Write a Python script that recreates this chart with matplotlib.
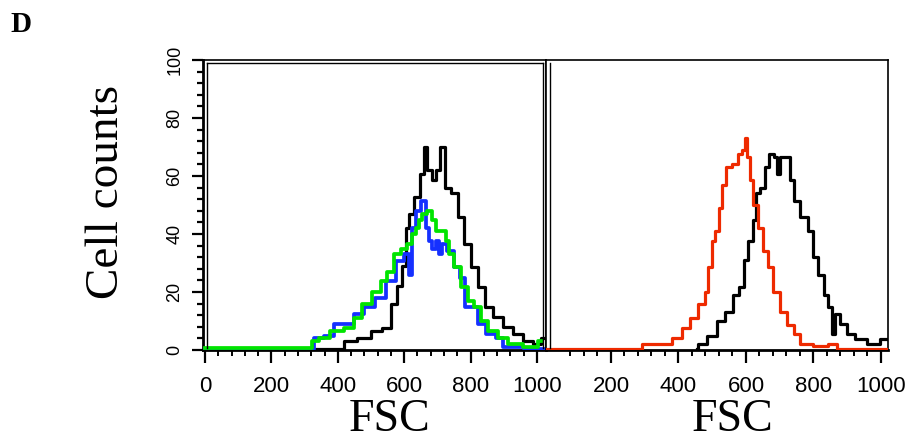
import matplotlib
matplotlib.use("Agg")
import matplotlib.pyplot as plt
from matplotlib.lines import Line2D
from matplotlib.ticker import MultipleLocator, FixedLocator

W, H = 912, 442

# ---------------- data ----------------
x_ticks = [0, 200, 400, 600, 800, 1000]
y_ticks = [0, 20, 40, 60, 80, 100]

# Left panel
left_black_x = [0, 398, 438, 478, 519, 549, 569, 589, 599, 609, 619, 639, 655, 665, 675, 690,
                700, 716, 731, 751, 771, 792, 812, 832, 852, 882, 912, 942, 972, 1003, 1018]
left_black_y = [0, 0.5, 3, 4, 6.6, 7.7, 15.8, 22, 29, 42, 47, 52.7, 60.8, 70, 62, 58.5,
                62, 70, 56, 54, 46, 36.5, 28.5, 21.6, 14.7, 11.3, 7.8, 5.5, 3, 2, 4]

left_blue_x = [0, 317, 337, 377, 398, 438, 458, 498, 529, 559, 589, 609, 619, 629, 639, 660,
               670, 680, 690, 700, 710, 720, 740, 761, 776, 792, 812, 832, 862, 892, 902, 1020]
left_blue_y = [0.5, 0.5, 4, 5, 9, 9, 12.5, 14.7, 18, 23.8, 30.7, 33, 26, 42, 48, 51.5,
               42, 37.6, 35, 37.6, 33, 36.5, 34, 28.5, 25, 14.7, 14.7, 9, 5.5, 4, 1, 0.5]

left_green_x = [0, 317, 327, 357, 398, 438, 458, 488, 519, 539, 559, 579, 599, 619, 629, 639,
                649, 660, 680, 690, 700, 720, 730, 740, 761, 781, 801, 822, 842, 862, 902,
                922, 993, 1013]
left_green_y = [0.8, 0.8, 3, 4, 6.6, 7.7, 11, 15.8, 20, 23.8, 27, 33, 35, 36.5, 40, 42,
                44.7, 47, 48, 44.7, 41, 41, 37.6, 33, 28.5, 21.6, 17, 14.7, 10, 6.6, 4,
                2, 1, 3]

# Right panel
right_red_x = [0, 286, 296, 365, 395, 425, 444, 474, 484, 494, 504, 514, 524, 533, 548, 568,
               583, 593, 600, 607, 617, 627, 642, 657, 672, 691, 711, 731, 751, 770, 830,
               859, 879, 1024]
right_red_y = [0.5, 0.5, 2, 2, 4, 7.7, 11, 15.8, 20, 28.5, 37.6, 41, 49, 57, 63, 64,
               67.7, 69, 73, 66.5, 58.5, 50, 42, 34, 28.5, 20, 13, 8.6, 5.5, 2, 1.5,
               2, 0.5, 0.5]

right_black_x = [454, 464, 504, 524, 553, 573, 588, 598, 612, 627, 632, 652, 662, 677, 691,
                 696, 706, 726, 736, 750, 770, 795, 805, 825, 840, 849, 859, 869, 889, 909,
                 938, 978, 1017]
right_black_y = [0.5, 2, 5, 10, 13, 19, 21.6, 31, 37.6, 44.7, 54, 56, 63, 67.7, 66.5,
                 60.8, 66.5, 66.5, 58.5, 51.5, 46, 41, 31.9, 26, 19, 14.7, 5.5, 12.5, 9,
                 5.5, 3.8, 2, 3.8]

# ---------------- figure ----------------
fig = plt.figure(figsize=(W / 100, H / 100), dpi=100)

def fx(px):
    return px / W

def fy(py):
    return 1 - py / H

top, bottom = 60, 350
ax1 = fig.add_axes([fx(203), fy(bottom), fx(546) - fx(203), fy(top) - fy(bottom)])
ax2 = fig.add_axes([fx(546), fy(bottom), fx(888) - fx(546), fy(top) - fy(bottom)])

lw = 2.3
ds = "steps-mid"
ax1.plot(left_black_x, left_black_y, color="black", lw=lw, zorder=3, drawstyle=ds)
ax1.plot(left_blue_x, left_blue_y, color="#1530ff", lw=lw + 0.4, zorder=4, drawstyle=ds)
ax1.plot(left_green_x, left_green_y, color="#00e400", lw=lw + 0.4, zorder=5, drawstyle=ds)

ax2.plot(right_black_x, right_black_y, color="black", lw=lw, zorder=3, drawstyle=ds)
ax2.plot(right_red_x, right_red_y, color="#ee2a00", lw=lw, zorder=4, drawstyle=ds)

ax1.set_xlim(-6, 1027)
ax2.set_xlim(7.4, 1021)
for ax in (ax1, ax2):
    ax.set_ylim(0, 100)
    for s in ax.spines.values():
        s.set_linewidth(1.2)
    ax.spines["bottom"].set_linewidth(2.0)

ax1.spines["left"].set_linewidth(2.0)

tick_font = dict(family=["Liberation Sans Narrow", "Liberation Sans", "DejaVu Sans"])

# x ticks
ax1.xaxis.set_major_locator(FixedLocator(x_ticks))
ax1.xaxis.set_minor_locator(MultipleLocator(40))
ax1.set_xticklabels([str(v) for v in x_ticks], fontsize=16, **tick_font)

ax2.xaxis.set_major_locator(FixedLocator(x_ticks[1:]))
ax2.xaxis.set_minor_locator(FixedLocator([v for v in range(80, 1001, 40) if v % 200]))
ax2.set_xticklabels([str(v) for v in x_ticks[1:]], fontsize=16, **tick_font)

for ax in (ax1, ax2):
    ax.tick_params(axis="x", which="major", direction="out", length=9, width=1.6, pad=10)
    ax.tick_params(axis="x", which="minor", direction="out", length=4.5, width=1.4)

# y ticks
ax1.yaxis.set_major_locator(FixedLocator(y_ticks))
ax1.yaxis.set_minor_locator(MultipleLocator(4))
ax1.set_yticklabels([str(v) for v in y_ticks], fontsize=13, rotation=90,
                    va="center", **tick_font)
ax1.tick_params(axis="y", which="major", direction="out", length=8, width=1.6, pad=6)
ax1.tick_params(axis="y", which="minor", direction="out", length=4, width=1.6)
ax2.set_yticks([])

# inner double border lines
def fline(x0, y0, x1, y1, lwid=1.0):
    fig.add_artist(Line2D([fx(x0), fx(x1)], [fy(y0), fy(y1)],
                          transform=fig.transFigure, color="black", lw=lwid))

fline(207, 63, 207, 348)
fline(207, 63, 543, 63)
fline(543, 63, 543, 348)
fline(550, 63, 550, 348)

# labels
serif = ["Liberation Serif", "DejaVu Serif"]
fig.text(fx(107), fy(192), "Cell counts", rotation=90, ha="center", va="center",
         fontsize=34, family=serif)
fig.text(fx(390), fy(420), "FSC", ha="center", va="center", fontsize=33, family=serif)
fig.text(fx(733), fy(420), "FSC", ha="center", va="center", fontsize=33, family=serif)
fig.text(fx(21), fy(25), "D", ha="center", va="center", fontsize=21, family=serif,
         fontweight="bold")

fig.savefig("out.png", dpi=100)
